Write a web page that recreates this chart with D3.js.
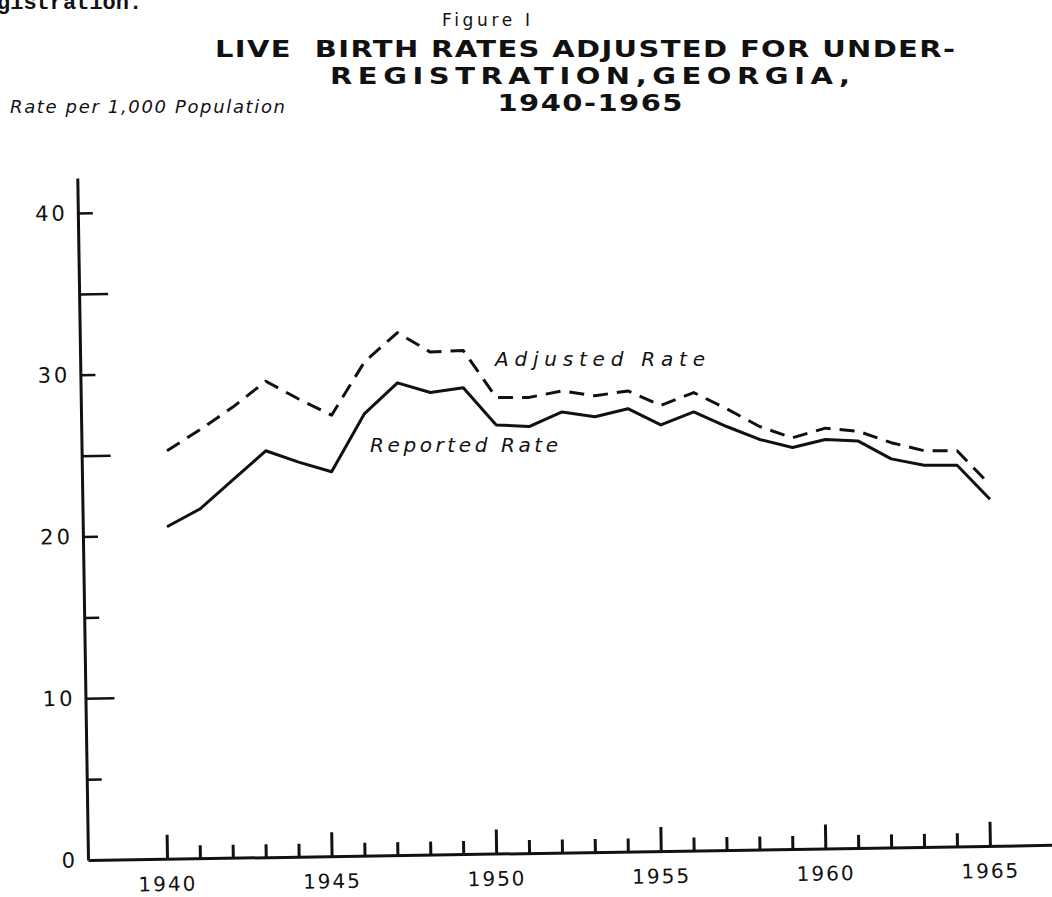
<!DOCTYPE html>
<html>
<head>
<meta charset="utf-8">
<script src="https://cdn.jsdelivr.net/npm/d3@7/dist/d3.min.js"></script>
<style>
  html, body { margin: 0; padding: 0; background: #fff; }
  svg { display: block; }
</style>
</head>
<body>
<svg id="chart" width="1052" height="897"></svg>
<script>
// values
const years = [1940, 1941, 1942, 1943, 1944, 1945, 1946, 1947, 1948, 1949, 1950, 1951, 1952,
               1953, 1954, 1955, 1956, 1957, 1958, 1959, 1960, 1961, 1962, 1963, 1964, 1965];
const reported = [20.6, 21.7, 23.5, 25.3, 24.6, 24.0, 27.6, 29.5, 28.9, 29.2, 26.9, 26.8, 27.7,
                  27.4, 27.9, 26.9, 27.7, 26.8, 26.0, 25.5, 26.0, 25.9, 24.8, 24.4, 24.4, 22.3];
const adjusted = [25.3, 26.6, 28.0, 29.6, 28.5, 27.5, 30.8, 32.6, 31.4, 31.5, 28.6, 28.6, 29.0,
                  28.7, 29.0, 28.1, 28.9, 27.9, 26.8, 26.1, 26.7, 26.5, 25.8, 25.3, 25.3, 23.2];

const majorYears = [1940, 1945, 1950, 1955, 1960, 1965];
const yTicks = [0, 5, 10, 15, 20, 25, 30, 35, 40];
const yLabelled = [0, 10, 20, 30, 40];
const yLongTicks = [10, 25, 35];

const titleLines = ["LIVE  BIRTH RATES ADJUSTED FOR UNDER-", "REGISTRATION,GEORGIA,", "1940-1965"];
const figureLabel = "Figure I";
const yTitle = "Rate per 1,000 Population";
const seriesLabels = ["Adjusted Rate", "Reported Rate"];

const svg = d3.select("#chart");
const ink = "#111";

const x = d3.scaleLinear().domain([1940, 1965]).range([167, 990]);
const y = d3.scaleLinear().domain([0, 40]).range([860, 213]);

// axis scales reach past the data like the hand-drawn frame does
const xAxisScale = x.copy().domain([x.invert(88), x.invert(1070)]).range([88, 1070]);
const yAxisScale = y.copy().domain([0, y.invert(178)]).range([860, 178]);

// top-left fragment of the typed page
svg.append("text")
  .attr("x", -3).attr("y", 9)
  .style("font-family", "'Liberation Mono', monospace")
  .style("font-weight", "bold")
  .style("font-size", "22px")
  .style("fill", ink)
  .text("gistration.");

svg.append("text")
  .attr("x", 486).attr("y", 26)
  .attr("text-anchor", "middle")
  .attr("textLength", 88).attr("lengthAdjust", "spacing")
  .style("font-family", "'DejaVu Sans', sans-serif")
  .style("font-weight", "500")
  .style("font-size", "17px")
  .style("fill", ink)
  .text(figureLabel);

// lettering-guide title: wide, flattened capitals
const titleX = [585, 590, 590];
const titleY = [57, 84, 111];
const titleW = [740, 520, 185];
titleLines.forEach((t, i) => {
  svg.append("text")
    .attr("transform", `translate(${titleX[i]},${titleY[i]}) scale(1,0.78)`)
    .attr("text-anchor", "middle")
    .attr("textLength", titleW[i]).attr("lengthAdjust", "spacing")
    .attr("xml:space", "preserve")
    .style("font-family", "'DejaVu Sans', sans-serif")
    .style("font-weight", "600")
    .style("font-size", "29px")
    .style("fill", ink)
    .text(t);
});

svg.append("text")
  .attr("x", 10).attr("y", 113)
  .attr("textLength", 275).attr("lengthAdjust", "spacing")
  .style("font-family", "'DejaVu Sans', sans-serif")
  .style("font-style", "italic")
  .style("font-size", "18px")
  .style("fill", ink)
  .text(yTitle);

// axes, tilted a little like the scan
const frame = svg.append("g").attr("transform", "rotate(-0.9, 88, 860)");

const yAxis = frame.append("g")
  .attr("transform", "translate(88,0)")
  .call(d3.axisLeft(yAxisScale)
    .tickValues(yTicks)
    .tickSizeInner(-15)
    .tickSizeOuter(0)
    .tickPadding(10)
    .tickFormat(d => yLabelled.includes(d) ? d : ""));
yAxis.select(".domain").attr("stroke", ink).attr("stroke-width", 3);
yAxis.selectAll(".tick line")
  .attr("stroke", ink).attr("stroke-width", 2.5)
  .attr("x2", d => d === 0 ? 0 : (yLongTicks.includes(d) ? 29 : 15));
yAxis.selectAll(".tick text")
  .style("font-family", "'DejaVu Sans', sans-serif")
  .style("font-size", "21px")
  .style("letter-spacing", "3px")
  .style("fill", ink);

const xAxis = frame.append("g")
  .attr("transform", "translate(0,860)")
  .call(d3.axisBottom(xAxisScale)
    .tickValues(years)
    .tickSizeInner(-12)
    .tickSizeOuter(0)
    .tickPadding(18)
    .tickFormat(d => majorYears.includes(d) ? d : ""));
xAxis.select(".domain").attr("stroke", ink).attr("stroke-width", 3);
xAxis.selectAll(".tick line")
  .attr("stroke", ink).attr("stroke-width", 3)
  .attr("y2", d => majorYears.includes(d) ? -24 : -13);
xAxis.selectAll(".tick text")
  .style("font-family", "'DejaVu Sans', sans-serif")
  .style("font-size", "20px")
  .style("letter-spacing", "2px")
  .style("fill", ink);

// series
const line = d3.line()
  .x((d, i) => x(years[i]))
  .y(d => y(d));

svg.append("path")
  .datum(adjusted)
  .attr("d", line)
  .attr("fill", "none")
  .attr("stroke", ink)
  .attr("stroke-width", 3)
  .attr("stroke-dasharray", "15,9")
  .attr("stroke-linejoin", "round");

svg.append("path")
  .datum(reported)
  .attr("d", line)
  .attr("fill", "none")
  .attr("stroke", ink)
  .attr("stroke-width", 3)
  .attr("stroke-linejoin", "round");

// in-plot labels
const labelX = [495, 370];
const labelY = [366, 452];
const labelW = [210, 188];
seriesLabels.forEach((t, i) => {
  svg.append("text")
    .attr("x", labelX[i]).attr("y", labelY[i])
    .attr("textLength", labelW[i]).attr("lengthAdjust", "spacing")
    .style("font-family", "'DejaVu Sans', sans-serif")
    .style("font-style", "italic")
    .style("font-size", "20px")
    .style("fill", ink)
    .text(t);
});
</script>
</body>
</html>
